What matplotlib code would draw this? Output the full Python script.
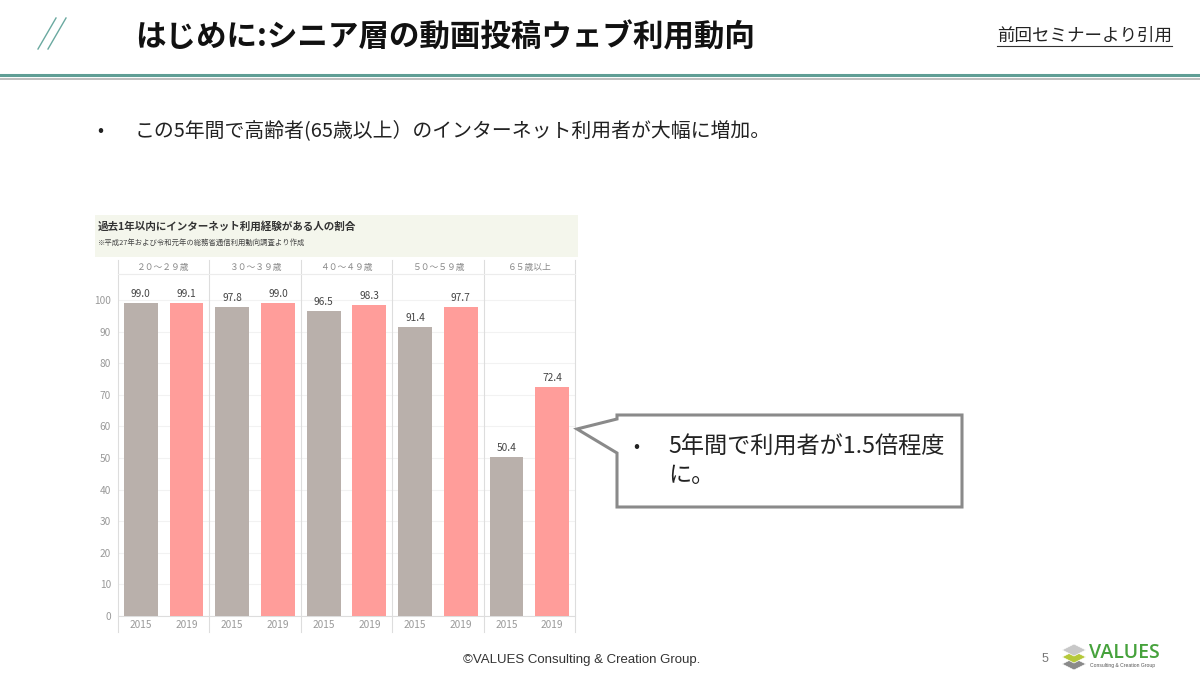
import matplotlib
matplotlib.use("Agg")
import matplotlib.pyplot as plt
from matplotlib.patches import Polygon, Rectangle
from matplotlib.lines import Line2D
from matplotlib.transforms import blended_transform_factory

plt.rcParams['font.family'] = ['Noto Sans CJK JP', 'DejaVu Sans']

# data
age_groups = ["２０～２９歳", "３０～３９歳", "４０～４９歳", "５０～５９歳", "６５歳以上"]
years = ["2015", "2019"]
rate_2015 = [99.0, 97.8, 96.5, 91.4, 50.4]
rate_2019 = [99.1, 99.0, 98.3, 97.7, 72.4]
y_ticks = [0, 10, 20, 30, 40, 50, 60, 70, 80, 90, 100]

W, H = 1200, 674
fig = plt.figure(figsize=(12, 6.74), dpi=100)


# pixel helpers (origin top-left like the slide)
def px(x, y):
    return (x / W, 1 - y / H)


def ftext(x, y, s, **kw):
    fx, fy = px(x, y)
    return fig.text(fx, fy, s, **kw)


def fline(xs, ys, **kw):
    fig.add_artist(Line2D([x / W for x in xs], [1 - y / H for y in ys],
                          transform=fig.transFigure, **kw))


# --- slide header ---
fline([38, 56], [49, 18], color='#6aa9a0', lw=1.0)
fline([48, 66], [49, 18], color='#6aa9a0', lw=1.0)
ftext(135, 37, "はじめに:シニア層の動画投稿ウェブ利用動向", fontsize=22,
      fontweight='bold', color='#111111', va='center', ha='left')
ftext(1172, 36, "前回セミナーより引用", fontsize=12.6, color='#222222',
      va='center', ha='right')
fline([997, 1172], [46, 46], color='#333333', lw=0.8)
fline([0, 1200], [75, 75], color='#5f9e95', lw=2.2)
fline([0, 1200], [78.5, 78.5], color='#bdbdbd', lw=1.4)

ftext(97, 131, "•", fontsize=13, color='#222222', va='center', ha='left')
ftext(135, 131, "この5年間で高齢者(65歳以上）のインターネット利用者が大幅に増加。",
      fontsize=14.3, color='#222222', va='center', ha='left')

# --- embedded chart ---
fig.add_artist(Rectangle(px(95, 257), 483 / W, 42 / H, transform=fig.transFigure,
                         facecolor='#f4f6ec', edgecolor='none'))
ftext(98, 226, "過去1年以内にインターネット利用経験がある人の割合", fontsize=7.6,
      fontweight='bold', color='#333333', va='center', ha='left')
ftext(98, 243, "※平成27年および令和元年の総務省通信利用動向調査より作成", fontsize=5.3,
      color='#444444', va='center', ha='left')

ax_l, ax_t, ax_r, ax_b = 118, 274, 575, 616
ax = fig.add_axes([ax_l / W, 1 - ax_b / H, (ax_r - ax_l) / W, (ax_b - ax_t) / H])
ymax = (ax_b - ax_t) / 3.16
ax.set_xlim(-0.5, 9.5)
ax.set_ylim(0, ymax)

x15 = [g * 2 for g in range(len(age_groups))]
x19 = [g * 2 + 1 for g in range(len(age_groups))]
ax.bar(x15, rate_2015, width=0.74, color='#b9b0ab', zorder=3)
ax.bar(x19, rate_2019, width=0.74, color='#ff9d9a', zorder=3)
for xs, vals in ((x15, rate_2015), (x19, rate_2019)):
    for x, v in zip(xs, vals):
        ax.text(x, v + 1.3, f"{v:.1f}", ha='center', va='bottom', fontsize=7.3,
                color='#444444')

ax.set_yticks(y_ticks)
ax.set_yticklabels([str(t) for t in y_ticks])
ax.set_xticks(x15 + x19)
ax.set_xticklabels([years[0]] * len(x15) + [years[1]] * len(x19))
ax.tick_params(axis='both', length=0, labelsize=7.3, labelcolor='#999999')
ax.tick_params(axis='x', pad=3)
ax.tick_params(axis='y', pad=5)
ax.grid(axis='y', color='#f2f2f2', lw=0.8, zorder=0)
for side in ('left', 'right'):
    ax.spines[side].set_visible(False)
ax.spines['top'].set_color('#ececec')
ax.spines['bottom'].set_color('#dddddd')
ax.spines['top'].set_linewidth(0.8)
ax.spines['bottom'].set_linewidth(0.8)

trans = blended_transform_factory(ax.transData, ax.transAxes)
y_lo = (ax_b - 632) / (ax_b - ax_t)
y_hi = (ax_b - 260) / (ax_b - ax_t)
for sx in [-0.5, 1.5, 3.5, 5.5, 7.5, 9.5]:
    ax.plot([sx, sx], [y_lo, y_hi], transform=trans, clip_on=False,
            color='#dddddd', lw=0.8)
y_head = (ax_b - 267) / (ax_b - ax_t)
for g, name in enumerate(age_groups):
    ax.text(g * 2 + 0.5, y_head, name, transform=trans, ha='center',
            va='center', fontsize=6.3, color='#888888')

# --- callout ---
call = [(617, 415), (962, 415), (962, 507), (617, 507), (617, 453),
        (577, 429), (617, 419)]
fig.add_artist(Polygon([px(x, y) for x, y in call], closed=True,
                       transform=fig.transFigure, facecolor='white',
                       edgecolor='#8a8a8a', lw=2.2))
ftext(633, 447, "•", fontsize=13, color='#222222', va='center', ha='left')
ftext(668, 447, "5年間で利用者が1.5倍程度", fontsize=16.7, color='#222222',
      va='center', ha='left')
ftext(668, 476, "に。", fontsize=16.7, color='#222222', va='center', ha='left')

# --- footer ---
ftext(582, 660, "©VALUES Consulting & Creation Group.", fontsize=9.5,
      family='Liberation Sans', color='#333333', va='center', ha='center')
ftext(1045, 659, "5", fontsize=9, family='Liberation Sans', color='#777777',
      va='center', ha='center')
# logo icon: stacked slabs
for dy, col in ((14, '#8a8a8a'), (7, '#b5c83a'), (0, '#c8c8c8')):
    slab = [(1062, 650 + dy), (1074, 644 + dy), (1086, 650 + dy), (1074, 656 + dy)]
    fig.add_artist(Polygon([px(x, y) for x, y in slab], closed=True,
                           transform=fig.transFigure, facecolor=col,
                           edgecolor='white', lw=0.5))
ftext(1089, 653, "VALUES", fontsize=14, family='Open Sans', fontweight='semibold',
      color='#46a23c', va='center', ha='left')
ftext(1090, 666, "Consulting & Creation Group", fontsize=3.6,
      family='Liberation Sans', color='#555555', va='center', ha='left')

fig.savefig("out.png", dpi=100)
